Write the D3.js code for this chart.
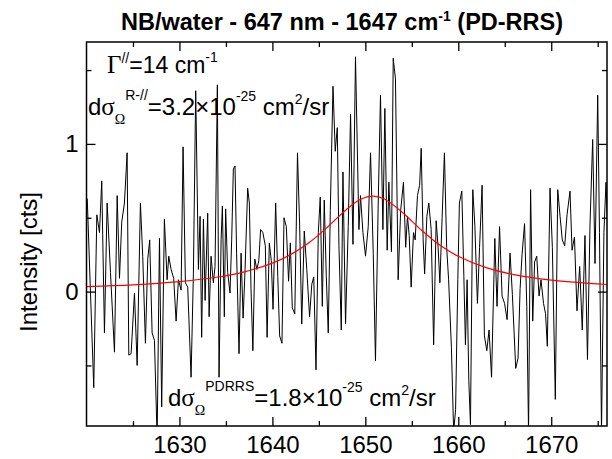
<!DOCTYPE html>
<html>
<head>
<meta charset="utf-8">
<script src="https://cdn.jsdelivr.net/npm/d3@7"></script>
<style>
  body { margin: 0; background: #fff; }
  svg { display: block; }
</style>
</head>
<body>
<svg id="chart" width="612" height="459"></svg>
<script>
// measured spectrum (cm-1 / counts)
const wavenumber = [
  1620.08, 1620.78, 1621.11, 1621.40, 1621.64, 1621.93, 1622.22, 1622.58, 1623.01, 1623.30,
  1623.55, 1623.79, 1624.08, 1624.37, 1624.55, 1624.80, 1625.16, 1625.45, 1625.80, 1626.05,
  1626.34, 1626.59, 1626.80, 1627.06, 1627.31, 1627.60, 1627.85, 1628.09, 1628.38, 1628.67,
  1628.85, 1629.10, 1629.38, 1629.64, 1629.89, 1630.18, 1630.39, 1630.64, 1630.89, 1631.25,
  1631.50, 1631.75, 1632.04, 1632.22, 1632.39, 1632.58, 1632.76, 1633.04, 1633.19, 1633.40,
  1633.65, 1633.83, 1634.08, 1634.26, 1634.48, 1634.62, 1634.83, 1634.97, 1635.19, 1635.44,
  1635.62, 1635.80, 1635.98, 1636.15, 1636.41, 1636.63, 1636.85, 1637.06, 1637.34, 1637.52,
  1637.70, 1637.90, 1638.11, 1638.33, 1638.54, 1638.73, 1638.97, 1639.24, 1639.43, 1639.67,
  1639.88, 1640.07, 1640.35, 1640.58, 1640.78, 1641.03, 1641.25, 1641.50, 1641.74, 1641.93,
  1642.14, 1642.41, 1642.70, 1642.93, 1643.16, 1643.43, 1643.70, 1644.00, 1644.24, 1644.45,
  1644.69, 1644.94, 1645.15, 1645.37, 1645.58, 1645.80, 1646.01, 1646.23, 1646.52, 1646.76,
  1646.98, 1647.16, 1647.41, 1647.59, 1647.87, 1648.16, 1648.41, 1648.67, 1648.94, 1649.31,
  1649.48, 1649.74, 1650.02, 1650.31, 1650.56, 1650.85, 1651.09, 1651.38, 1651.63, 1651.89,
  1652.10, 1652.35, 1652.53, 1652.81, 1653.00, 1653.24, 1653.53, 1653.80, 1654.10, 1654.34,
  1654.53, 1654.72, 1654.93, 1655.18, 1655.36, 1655.61, 1655.84, 1656.01, 1656.22, 1656.38,
  1656.62, 1656.83, 1657.08, 1657.35, 1657.62, 1657.83, 1658.02, 1658.26, 1658.51, 1658.75,
  1658.96, 1659.26, 1659.50, 1659.71, 1659.95, 1660.12, 1660.38, 1660.60, 1660.77, 1660.95,
  1661.13, 1661.31, 1661.56, 1661.78, 1662.06, 1662.29, 1662.56, 1662.81, 1663.07, 1663.31,
  1663.58, 1663.93, 1664.17, 1664.44, 1664.71, 1664.98, 1665.25, 1665.57, 1665.82, 1666.18,
  1666.43, 1666.65, 1666.86, 1667.13, 1667.37, 1667.56, 1667.78, 1668.01, 1668.21, 1668.44,
  1668.69, 1668.90, 1669.17, 1669.39, 1669.58, 1669.87, 1670.12, 1670.44, 1670.70, 1670.95,
  1671.19, 1671.45, 1671.70, 1672.02, 1672.24, 1672.50, 1672.77, 1673.06, 1673.34, 1673.63,
  1673.90, 1674.17, 1674.46, 1674.71, 1675.00, 1675.19, 1675.41, 1675.67, 1675.89, 1676.05
];
const intensity = [
  0.63, -0.65, 0.52, 0.40, 0.75, -0.28, 0.60, 0.13, -0.41, 0.65,
  0.09, 0.47, 0.60, 0.94, -0.43, -0.42, -0.01, -0.50, 0.60, 0.24,
  -0.35, 0.22, 0.35, -0.28, -0.33, -1.00, 0.36, -0.78, 0.49, 0.08,
  0.24, 0.15, 0.09, -0.20, 0.08, 0.01, 0.98, 0.06, 0.03, -0.58,
  0.12, 1.36, 0.15, 0.51, -0.31, 0.49, -0.06, 0.53, -0.17, 0.24,
  0.06, 0.17, 1.40, -0.58, 0.35, 0.58, -0.17, 0.56, 0.13, -0.01,
  0.35, 0.83, 0.85, 0.26, -0.42, 0.26, -0.18, 0.15, 0.70, 0.60,
  0.02, -0.40, 0.22, 0.15, 0.21, 0.42, 0.40, 0.31, -0.31, 0.33,
  0.21, -0.12, 0.60, 0.10, -0.30, -0.35, 0.50, 0.44, 0.07, 0.33,
  -0.11, -0.15, 0.94, 0.45, -0.22, 0.41, 0.15, -0.17, 0.05, 0.10,
  -0.53, 0.40, 0.64, -0.10, 0.62, 0.10, -0.28, 0.55, 1.39, 0.95,
  1.11, 0.31, -0.26, 0.81, -0.22, 0.44, 1.20, 0.32, 1.59, 0.42,
  0.65, 0.40, 0.24, 0.44, 0.94, 0.26, -0.47, 0.58, 1.33, 0.42,
  1.24, 0.28, 0.74, 0.27, 1.58, 1.44, 0.08, 0.55, 0.74, 0.30,
  0.51, 0.38, 0.03, 0.40, 0.35, 0.65, 0.72, 0.97, 0.35, 0.12,
  0.51, 0.60, 0.42, -0.36, 0.48, 0.30, 0.06, 0.50, 0.94, 0.30,
  0.08, -0.38, -0.95, -0.80, 0.08, 0.60, 0.68, 0.10, -0.36, 0.08,
  -0.60, -0.90, 0.69, 0.45, -0.08, 0.30, 0.72, -0.30, -0.40, -0.26,
  -0.58, 0.36, -0.10, 0.44, -0.03, -0.08, -0.19, 0.26, -0.02, -0.52,
  -0.45, 0.02, 0.25, 0.46, -0.10, -0.95, 0.69, -0.20, 0.20, 0.24,
  -0.03, 0.08, -0.08, -0.15, -0.37, 0.70, 0.30, -0.73, 0.69, 0.51,
  0.35, 0.31, 0.52, 0.68, 0.28, 0.37, -0.13, 0.17, -0.26, 0.38,
  -0.46, 0.45, 1.03, 0.19, 1.33, 0.40, -0.95, 0.40, 0.74, 0.45
];

// lorentzian fit (red)
const fitX = [1620, 1625, 1630, 1634, 1637, 1640, 1642, 1644, 1646, 1648, 1649.5,
  1650.8, 1652, 1654, 1656, 1658, 1660, 1663, 1666, 1670, 1676];
const fitY = [0.034, 0.046, 0.068, 0.097, 0.134, 0.193, 0.252, 0.334, 0.441, 0.558, 0.625,
  0.647, 0.629, 0.536, 0.418, 0.315, 0.239, 0.162, 0.115, 0.078, 0.048];

const xMajor = [1630, 1640, 1650, 1660, 1670];
const xMinor = [1625, 1635, 1645, 1655, 1665, 1675];
const yMajor = [0, 1];
const yMinor = [-0.5, 0.5, 1.5];

const sans = "'Liberation Sans', Arial, Helvetica, sans-serif";
const serif = "'Liberation Serif', 'Times New Roman', serif";
const fontSize = 24;

const svg = d3.select("#chart");
const plotLeft = 86.5, plotRight = 607, plotTop = 42, plotBottom = 426;

const x = d3.scaleLinear().domain([1620, 1676]).range([plotLeft, plotRight]);
const y = d3.scaleLinear().domain([-0.91, 1.69]).range([plotBottom, plotTop]);

svg.append("defs").append("clipPath").attr("id", "plotClip")
  .append("rect")
  .attr("x", plotLeft).attr("y", plotTop)
  .attr("width", plotRight - plotLeft).attr("height", plotBottom - plotTop);

// axes, ticks pointing inward on all four sides
function styleAxis(g) {
  g.select(".domain").remove();
  g.selectAll("line").attr("stroke", "#000").attr("stroke-width", 1.3);
  g.selectAll("text").attr("font-family", sans).attr("font-size", fontSize).attr("fill", "#000");
}

svg.append("g").attr("transform", `translate(0,${plotBottom})`)
  .call(d3.axisBottom(x).tickValues(xMajor).tickSize(-9).tickPadding(10).tickFormat(d3.format("d")))
  .call(styleAxis);
svg.append("g").attr("transform", `translate(0,${plotBottom})`)
  .call(d3.axisBottom(x).tickValues(xMinor).tickSize(-5).tickFormat(""))
  .call(styleAxis);
svg.append("g").attr("transform", `translate(0,${plotTop})`)
  .call(d3.axisTop(x).tickValues(xMajor).tickSize(-9).tickFormat(""))
  .call(styleAxis);
svg.append("g").attr("transform", `translate(0,${plotTop})`)
  .call(d3.axisTop(x).tickValues(xMinor).tickSize(-5).tickFormat(""))
  .call(styleAxis);

svg.append("g").attr("transform", `translate(${plotLeft},0)`)
  .call(d3.axisLeft(y).tickValues(yMajor).tickSize(-9).tickPadding(8).tickFormat(d3.format("d")))
  .call(styleAxis);
svg.append("g").attr("transform", `translate(${plotLeft},0)`)
  .call(d3.axisLeft(y).tickValues(yMinor).tickSize(-5).tickFormat(""))
  .call(styleAxis);
svg.append("g").attr("transform", `translate(${plotRight},0)`)
  .call(d3.axisRight(y).tickValues(yMajor).tickSize(-9).tickFormat(""))
  .call(styleAxis);
svg.append("g").attr("transform", `translate(${plotRight},0)`)
  .call(d3.axisRight(y).tickValues(yMinor).tickSize(-5).tickFormat(""))
  .call(styleAxis);

// data
const plot = svg.append("g").attr("clip-path", "url(#plotClip)");

const spectrum = wavenumber.map((w, i) => [w, intensity[i]]);
plot.append("path")
  .datum(spectrum)
  .attr("fill", "none")
  .attr("stroke", "#000")
  .attr("stroke-width", 1)
  .attr("d", d3.line().x(d => x(d[0])).y(d => y(d[1])));

const fit = fitX.map((w, i) => [w, fitY[i]]);
plot.append("path")
  .datum(fit)
  .attr("fill", "none")
  .attr("stroke", "#ff0000")
  .attr("stroke-width", 1.2)
  .attr("d", d3.line().curve(d3.curveCatmullRom.alpha(0.5)).x(d => x(d[0])).y(d => y(d[1])));

// frame
svg.append("rect")
  .attr("x", plotLeft).attr("y", plotTop)
  .attr("width", plotRight - plotLeft).attr("height", plotBottom - plotTop)
  .attr("fill", "none").attr("stroke", "#000").attr("stroke-width", 1.5);

// text with super/subscripts; parts: {t, sup, sub, size, serif}
function richText(px, py, parts, size, opts = {}) {
  const t = svg.append("text")
    .attr("x", px).attr("y", py)
    .attr("font-family", sans)
    .attr("font-size", size)
    .attr("font-weight", opts.bold ? "bold" : null)
    .attr("text-anchor", opts.anchor || "start")
    .attr("fill", "#000");
  let shift = 0;
  parts.forEach(p => {
    const target = p.sup ? -p.sup : (p.sub || 0);
    t.append("tspan")
      .attr("dy", target - shift)
      .attr("font-size", p.size || size)
      .attr("font-family", p.serif ? serif : null)
      .text(p.t);
    shift = target;
  });
  return t;
}

richText(342, 30, [
  { t: "NB/water - 647 nm - 1647 cm" },
  { t: "-1", sup: 9, size: 14 },
  { t: " (PD-RRS)" }
], 23.5, { bold: true, anchor: "middle" });

richText(107, 73, [
  { t: "Γ", serif: true, size: 25 },
  { t: "//", sup: 10, size: 14 },
  { t: "=14 cm" },
  { t: "-1", sup: 11, size: 14 }
], 23);

richText(88, 115, [
  { t: "d" },
  { t: "σ", serif: true, size: 25 },
  { t: "Ω", sub: 9, size: 14, serif: true },
  { t: "R-//", sup: 15, size: 14 },
  { t: "=3.2×10" },
  { t: "-25", sup: 14, size: 14 },
  { t: " cm" },
  { t: "2", sup: 11, size: 14 },
  { t: "/sr" }
], fontSize);

richText(168, 406, [
  { t: "d" },
  { t: "σ", serif: true, size: 25 },
  { t: "Ω", sub: 9, size: 14, serif: true },
  { t: "PDRRS", sup: 15, size: 14 },
  { t: "=1.8×10" },
  { t: "-25", sup: 14, size: 14 },
  { t: " cm" },
  { t: "2", sup: 11, size: 14 },
  { t: "/sr" }
], fontSize);

// y axis title
svg.append("text")
  .attr("transform", "translate(37,262) rotate(-90)")
  .attr("text-anchor", "middle")
  .attr("font-family", sans)
  .attr("font-size", fontSize)
  .attr("fill", "#000")
  .text("Intensity [cts]");
</script>
</body>
</html>
